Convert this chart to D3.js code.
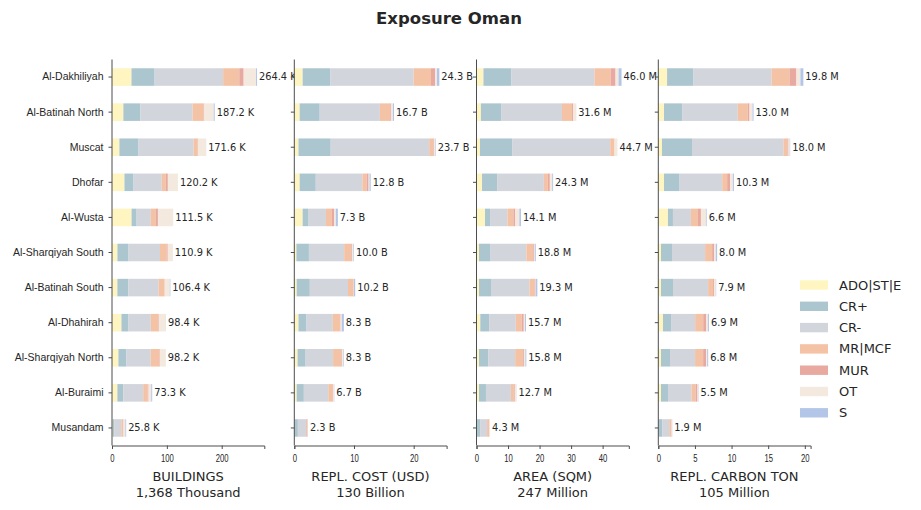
<!DOCTYPE html>
<html>
<head>
<meta charset="utf-8">
<script src="https://cdn.jsdelivr.net/npm/d3@7"></script>
<style>
  body { margin: 0; background: #fff; }
  svg { font-family: "DejaVu Sans", sans-serif; }
</style>
</head>
<body>
<div id="chart"></div>
<script>
// regions, top to bottom
var regions = ["Al-Dakhiliyah", "Al-Batinah North", "Muscat", "Dhofar", "Al-Wusta",
  "Al-Sharqiyah South", "Al-Batinah South", "Al-Dhahirah", "Al-Sharqiyah North",
  "Al-Buraimi", "Musandam"];

// stacking order of the building classes
var classes = ["ADO|ST|E", "CR+", "CR-", "MR|MCF", "MUR", "OT", "S"];
var classColors = ["#fef5c0", "#acc6cf", "#d2d5dc", "#f4c3a6", "#e8a9a0", "#f3e9df", "#b3c6e7"];

// buildings, thousands (one row per region, one column per class)
var buildings = [
  [35.5, 42.2, 124.9, 29.4, 8.0, 22.6, 1.8],
  [20.7, 31.1, 95.2, 20.1, 1.2, 17.1, 1.8],
  [13.5, 34.9, 100.4, 7.4, 0.5, 14.7, 0.2],
  [22.7, 16.6, 51.4, 7.4, 3.7, 18.4, 0.0],
  [35.7, 9.2, 25.9, 9.2, 3.7, 27.7, 0.1],
  [9.9, 20.3, 57.3, 12.3, 1.8, 9.2, 0.1],
  [9.8, 20.2, 54.9, 11.0, 0.3, 9.2, 1.0],
  [17.2, 12.9, 40.6, 13.5, 1.2, 12.9, 0.1],
  [11.7, 14.7, 44.2, 15.4, 1.2, 11.0, 0.0],
  [9.8, 11.0, 36.1, 7.9, 1.8, 4.9, 1.8],
  [1.5, 3.0, 12.5, 3.5, 0.5, 3.3, 1.5]
];

// replacement cost, billion USD
var replCost = [
  [1.4, 4.6, 14.0, 2.9, 0.7, 0.3, 0.4],
  [0.9, 3.36, 10.08, 1.74, 0.17, 0.28, 0.17],
  [0.7, 5.4, 16.5, 0.7, 0.1, 0.2, 0.1],
  [0.9, 2.7, 7.8, 0.7, 0.35, 0.15, 0.2],
  [1.4, 1.0, 2.9, 1.0, 0.35, 0.3, 0.35],
  [0.35, 2.1, 5.9, 1.2, 0.15, 0.2, 0.1],
  [0.4, 2.2, 6.4, 0.85, 0.1, 0.05, 0.2],
  [0.7, 1.35, 4.4, 1.2, 0.1, 0.2, 0.35],
  [0.55, 1.35, 4.6, 1.4, 0.1, 0.2, 0.1],
  [0.4, 1.2, 4.1, 0.7, 0.15, 0.1, 0.05],
  [0.05, 0.55, 1.35, 0.2, 0.05, 0.05, 0.05]
];

// built-up area, million sqm
var area = [
  [2.2, 8.9, 26.3, 5.1, 1.6, 0.95, 0.95],
  [1.4, 6.4, 19.3, 3.2, 0.3, 0.95, 0.05],
  [1.1, 10.2, 31.1, 1.25, 0.1, 0.95, 0.0],
  [1.75, 4.8, 14.8, 1.27, 0.64, 0.74, 0.3],
  [2.7, 1.6, 5.5, 1.9, 0.6, 1.3, 0.5],
  [0.8, 3.5, 11.5, 2.2, 0.3, 0.2, 0.3],
  [0.8, 3.8, 12.2, 1.6, 0.3, 0.1, 0.5],
  [1.2, 2.8, 8.45, 1.9, 0.65, 0.4, 0.3],
  [0.8, 2.9, 8.55, 2.55, 0.3, 0.4, 0.3],
  [0.8, 2.2, 7.9, 0.95, 0.3, 0.5, 0.05],
  [0.05, 1.1, 2.2, 0.65, 0.1, 0.2, 0.0]
];

// replacement carbon, million ton
var carbon = [
  [1.2, 3.55, 10.7, 2.45, 0.95, 0.55, 0.4],
  [0.78, 2.47, 7.6, 1.37, 0.23, 0.41, 0.14],
  [0.5, 4.1, 12.48, 0.55, 0.14, 0.18, 0.05],
  [0.78, 2.05, 5.89, 0.68, 0.41, 0.37, 0.14],
  [1.32, 0.68, 2.45, 0.96, 0.41, 0.68, 0.1],
  [0.37, 1.5, 4.52, 0.96, 0.27, 0.23, 0.18],
  [0.37, 1.64, 4.79, 0.68, 0.14, 0.23, 0.05],
  [0.64, 1.1, 3.29, 1.1, 0.41, 0.23, 0.14],
  [0.37, 1.23, 3.42, 1.1, 0.41, 0.14, 0.14],
  [0.37, 0.96, 3.2, 0.55, 0.27, 0.1, 0.05],
  [0.03, 0.5, 0.96, 0.27, 0.05, 0.05, 0.04]
];

var panelTitles = ["BUILDINGS", "REPL. COST (USD)", "AREA (SQM)", "REPL. CARBON TON"];
var panelTotals = ["1,368 Thousand", "130 Billion", "247 Million", "105 Million"];
var panelUnits = ["K", "B", "M", "M"];
var panelTicks = [[0, 100, 200], [0, 10, 20], [0, 10, 20, 30, 40], [0, 5, 10, 15, 20]];
var panelData = [buildings, replCost, area, carbon];

/*
  layout
*/
var width = 921, height = 510;
var svg = d3.select("#chart").append("svg")
  .attr("width", width)
  .attr("height", height);

var panelX = [112, 294.3, 476.5, 658.3];
var panelW = 152.3;
var plotTop = 59.5, plotBottom = 445.5;
var textColor = "#262626";
var axisColor = "#4d4d4d";

svg.append("text")
  .attr("x", 449)
  .attr("y", 24)
  .attr("text-anchor", "middle")
  .style("font-size", "16.5px")
  .style("font-weight", "bold")
  .style("fill", textColor)
  .text("Exposure Oman");

var y = d3.scaleBand()
  .domain(regions)
  .range([plotTop, plotBottom])
  .paddingInner(0.5)
  .paddingOuter(0.25);

panelData.forEach(function (data, p) {
  var totals = data.map(function (row) { return d3.sum(row); });
  var x = d3.scaleLinear()
    .domain([0, d3.max(totals) * 1.05])
    .range([0, panelW]);

  var g = svg.append("g").attr("transform", "translate(" + panelX[p] + ",0)");

  // stacked bars
  var rows = g.selectAll("g.row")
    .data(data)
    .enter().append("g")
    .attr("class", "row");

  rows.each(function (row, i) {
    var acc = 0;
    var segs = row.map(function (v, k) {
      var s = { x0: acc, x1: acc + v, k: k };
      acc += v;
      return s;
    });
    d3.select(this).selectAll("rect")
      .data(segs)
      .enter().append("rect")
      .attr("x", function (d) { return x(d.x0); })
      .attr("width", function (d) { return x(d.x1) - x(d.x0); })
      .attr("y", y(regions[i]))
      .attr("height", y.bandwidth())
      .attr("fill", function (d) { return classColors[d.k]; });
  });

  // value labels
  g.selectAll("text.val")
    .data(totals)
    .enter().append("text")
    .attr("class", "val")
    .attr("x", function (d) { return x(d) + 2; })
    .attr("y", function (d, i) { return y(regions[i]) + y.bandwidth() / 2; })
    .attr("dy", "0.35em")
    .style("font-size", "9.8px")
    .style("fill", textColor)
    .text(function (d) { return d.toFixed(1) + " " + panelUnits[p]; });

  // y axis
  var yAxis = d3.axisLeft(y).tickSizeOuter(0).tickSize(3.5).tickPadding(5);
  if (p > 0) yAxis.tickFormat("");
  var ya = g.append("g").call(yAxis);
  ya.select(".domain").remove();
  ya.selectAll("line").attr("stroke", axisColor);
  ya.selectAll("text").style("font-size", "10.5px").style("fill", textColor);
  g.append("line")
    .attr("x1", 0).attr("x2", 0)
    .attr("y1", plotTop).attr("y2", plotBottom)
    .attr("stroke", axisColor);

  // x axis
  var xa = g.append("g")
    .attr("transform", "translate(0," + plotBottom + ")")
    .call(d3.axisBottom(x).tickValues(panelTicks[p]).tickSizeOuter(0).tickSize(3.5).tickPadding(5.5));
  xa.select(".domain").attr("stroke", axisColor);
  xa.selectAll("line").attr("stroke", axisColor);
  xa.selectAll("text")
    .style("font-size", "11px")
    .style("fill", textColor)
    .attr("transform", "scale(0.7,1)");

  g.append("text")
    .attr("x", panelW / 2)
    .attr("y", 481)
    .attr("text-anchor", "middle")
    .style("font-size", "13px")
    .style("fill", textColor)
    .text(panelTitles[p]);
  g.append("text")
    .attr("x", panelW / 2)
    .attr("y", 497)
    .attr("text-anchor", "middle")
    .style("font-size", "13px")
    .style("fill", textColor)
    .text(panelTotals[p]);
});

// legend
var legend = svg.append("g").attr("transform", "translate(800,285)");
var items = legend.selectAll("g")
  .data(classes)
  .enter().append("g")
  .attr("transform", function (d, i) { return "translate(0," + i * 21.3 + ")"; });
items.append("rect")
  .attr("x", 0).attr("y", -4.7)
  .attr("width", 28).attr("height", 9.4)
  .attr("fill", function (d, i) { return classColors[i]; });
items.append("text")
  .attr("x", 39)
  .attr("dy", "0.35em")
  .style("font-size", "13px")
  .style("fill", textColor)
  .text(function (d) { return d; });
</script>
</body>
</html>
